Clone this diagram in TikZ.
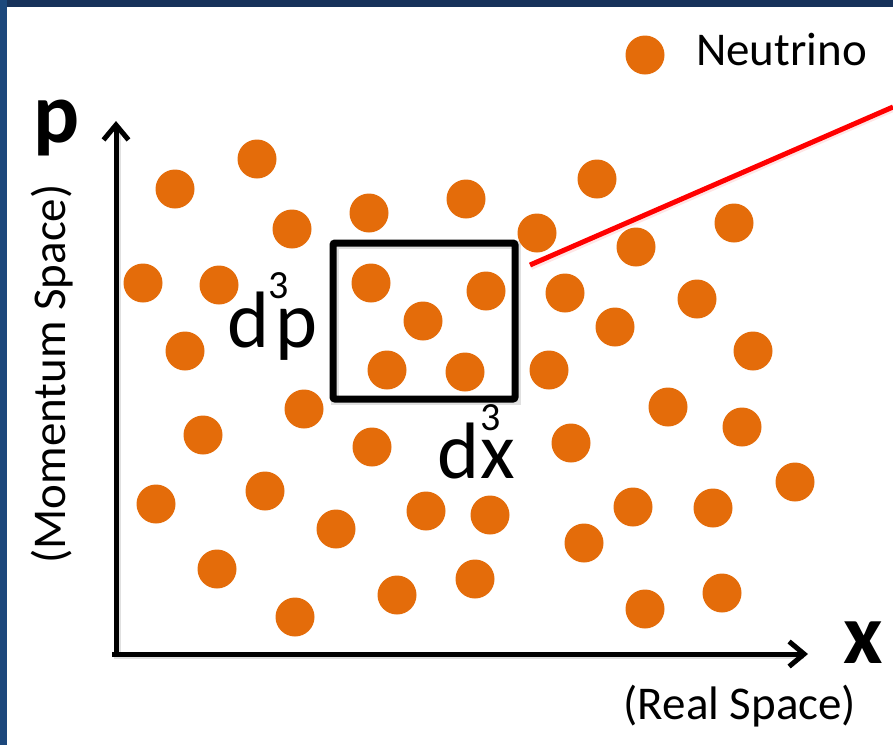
\documentclass[tikz,border=0pt]{standalone}
\usepackage{fontspec}
\setmainfont{Carlito}
\usetikzlibrary{arrows.meta}
\definecolor{nuorange}{RGB}{228,108,10}
\definecolor{navytop}{RGB}{23,50,90}
\definecolor{navyleft}{RGB}{28,72,124}
\newcommand{\supthree}[1]{\rlap{\raisebox{#1}{\fontsize{40}{40}\selectfont 3}}}
\begin{document}
\begin{tikzpicture}[x=1pt,y=-1pt,
  dot/.style={circle,fill=nuorange,draw=none,minimum size=39pt,inner sep=0pt},
  axis/.style={line width=5pt,-{Straight Barb[length=15pt,width=25pt]}},
  shadowline/.style={line width=6pt,draw=black,opacity=0.12},
  lbl/.style={inner sep=0pt,font=\fontsize{47}{47}\selectfont},
  big/.style={inner sep=0pt,font=\fontsize{80}{80}\selectfont},
  axlbl/.style={inner sep=0pt,font=\fontsize{86}{86}\selectfont\bfseries}]
\useasboundingbox (0,0) rectangle (893,745);
\fill[white] (0,0) rectangle (893,745);
\fill[navytop] (0,0) rectangle (893,7);
\fill[navyleft] (0,0) rectangle (7,745);

% coordinates
\coordinate (origin) at (116,654);
\coordinate (ytip) at (116,121);
\coordinate (xtip) at (808,654);
\coordinate (xstart) at (112,654);

% shadows
\draw[shadowline] (117.5,655.5) -- (117.5,128);
\draw[shadowline] (113.5,655.5) -- (804,655.5);
\draw[shadowline,line width=8pt] (335,245) rectangle (517,401);
\draw[red,line width=6pt,opacity=0.10] (531,267) -- (893,109);

% axes
\draw[axis] (origin) -- (ytip);
\draw[axis] (xstart) -- (xtip);

% dots
\foreach \i/\x/\y in {
 1/257/159, 2/175/189, 3/292/229, 4/369/213, 5/143/283, 6/219/285,
 7/371/283, 8/185/351, 9/466/199, 10/597/179, 11/537/233, 12/734/223,
 13/636/247, 14/486/291, 15/423/321, 16/565/293, 17/615/327, 18/697/299,
 19/753/351, 20/465/372, 21/549/370, 22/387/370, 23/304/409, 24/203/435,
 25/372/447, 26/156/504, 27/265/491, 28/336/529, 29/426/511, 30/217/569,
 31/295/617, 32/397/595, 33/668/407, 34/742/427, 35/571/443, 36/795/482,
 37/490/515, 38/633/507, 39/713/508, 40/584/543, 41/475/579, 42/645/609,
 43/722/593}
 \node[dot] (d\i) at (\x,\y) {};

% box
\node[draw=black,line width=7pt,rounded corners=2pt,minimum width=182pt,minimum height=156pt,inner sep=0pt] (box) at (424,321) {};

% red line
\coordinate (redstart) at (530,265);
\coordinate (redend) at (893,107);
\draw[red,line width=5pt] (redstart) -- (redend);

% legend
\node[dot] (legdot) at (645,55) {};
\node[lbl,anchor=base west] (neutrino) at (696,65) {Neutrino};

% axis labels
\node[axlbl,anchor=base] (plbl) at (57,142) {p};
\node[axlbl,anchor=base] (xlbl) at (863,663) {x};
\node[lbl,rotate=90] (mom) at (52,374) {(Momentum Space)};
\node[lbl] (real) at (740,706) {(Real Space)};

% d3p, d3x
\node[big,anchor=base west] (dp) at (227,347) {d\kern-1pt\supthree{49pt}\kern7pt p};
\node[big,anchor=base west] (dx) at (437,478) {d\kern1pt\supthree{48pt}x};
\end{tikzpicture}
\end{document}
